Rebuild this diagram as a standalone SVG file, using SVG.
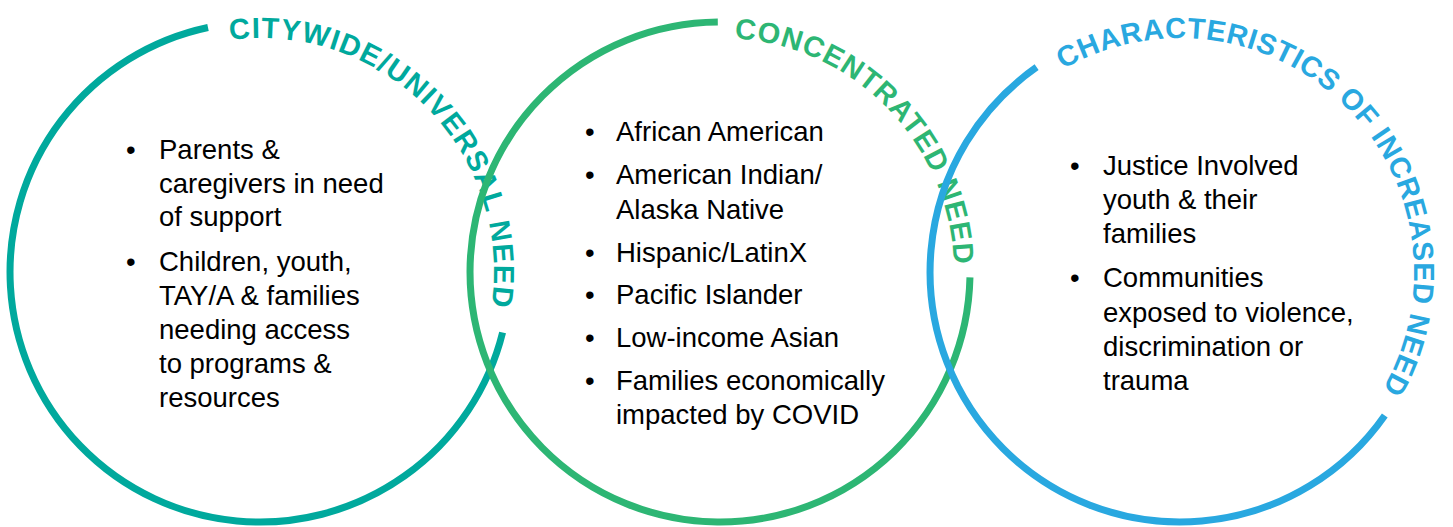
<svg xmlns="http://www.w3.org/2000/svg" xmlns:xlink="http://www.w3.org/1999/xlink" width="1453" height="527" viewBox="0 0 1453 527">
  <style>
    .ring { fill: none; stroke-width: 7; }
    .teal { stroke: #00A99D; }
    .green { stroke: #2DB674; }
    .blue { stroke: #29A8E0; }
    .title { font-family: "Liberation Sans", Arial, sans-serif; font-weight: bold; font-size: 29px; }
    .t-teal { fill: #00A99D; }
    .t-green { fill: #2DB674; }
    .t-blue { fill: #29A8E0; letter-spacing: 0.61px; }
    .body { font-family: "Liberation Sans", Arial, sans-serif; font-size: 27.5px; fill: #000; }
  </style>
  <defs>
    <path id="p1" d="M 229.86 39.94 A 234 234 0 0 1 491.5 305.8"/>
    <path id="p2" d="M 734.3 38.4 A 234 234 0 0 1 953.9 264.2"/>
    <path id="p3" d="M 1063 69.4 A 234 234 0 0 1 1382.6 389"/>
  </defs>
  <rect width="1453" height="527" fill="#fff"/>

  <g id="connectors"></g>

  <g id="node-citywide">
    <path class="ring teal" d="M 502.6 332.5 A 250 250 0 1 1 208 27.5"/>
    <text class="title t-teal"><textPath xlink:href="#p1" href="#p1" textLength="431.7" lengthAdjust="spacing">CITYWIDE/UNIVERSAL NEED</textPath></text>
    <text class="body" x="126" y="159">•</text>
    <text class="body" x="159" y="159">Parents &amp;</text>
    <text class="body" x="159" y="193">caregivers in need</text>
    <text class="body" x="159" y="226">of support</text>
    <text class="body" x="126" y="271">•</text>
    <text class="body" x="159" y="271">Children, youth,</text>
    <text class="body" x="159" y="305">TAY/A &amp; families</text>
    <text class="body" x="159" y="339">needing access</text>
    <text class="body" x="159" y="373">to programs &amp;</text>
    <text class="body" x="159" y="407">resources</text>
  </g>

  <g id="node-concentrated">
    <path class="ring green" d="M 969.96 277.4 A 250 250 0 1 1 717.8 22"/>
    <text class="title t-green"><textPath xlink:href="#p2" href="#p2" textLength="345.5" lengthAdjust="spacing">CONCENTRATED NEED</textPath></text>
    <text class="body" x="585" y="141">•</text>
    <text class="body" x="616" y="141">African American</text>
    <text class="body" x="585" y="184">•</text>
    <text class="body" x="616" y="184">American Indian/</text>
    <text class="body" x="616" y="219">Alaska Native</text>
    <text class="body" x="585" y="262">•</text>
    <text class="body" x="616" y="262">Hispanic/LatinX</text>
    <text class="body" x="585" y="304">•</text>
    <text class="body" x="616" y="304">Pacific Islander</text>
    <text class="body" x="585" y="347">•</text>
    <text class="body" x="616" y="347">Low-income Asian</text>
    <text class="body" x="585" y="390">•</text>
    <text class="body" x="616" y="390">Families economically</text>
    <text class="body" x="616" y="424">impacted by COVID</text>
  </g>

  <g id="node-characteristics">
    <path class="ring blue" d="M 1384.8 415.4 A 250 250 0 1 1 1036.6 67.2"/>
    <text class="title t-blue"><textPath xlink:href="#p3" href="#p3" startOffset="0">CHARACTERISTICS</textPath></text>
    <text class="title t-blue"><textPath xlink:href="#p3" href="#p3" startOffset="294.9">OF</textPath></text>
    <text class="title t-blue"><textPath xlink:href="#p3" href="#p3" startOffset="345.1">INCREASED NEED</textPath></text>
    <text class="body" x="1070" y="175">•</text>
    <text class="body" x="1103" y="175">Justice Involved</text>
    <text class="body" x="1103" y="209">youth &amp; their</text>
    <text class="body" x="1103" y="243">families</text>
    <text class="body" x="1070" y="287">•</text>
    <text class="body" x="1103" y="287">Communities</text>
    <text class="body" x="1103" y="322">exposed to violence,</text>
    <text class="body" x="1103" y="356">discrimination or</text>
    <text class="body" x="1103" y="390">trauma</text>
  </g>
</svg>
